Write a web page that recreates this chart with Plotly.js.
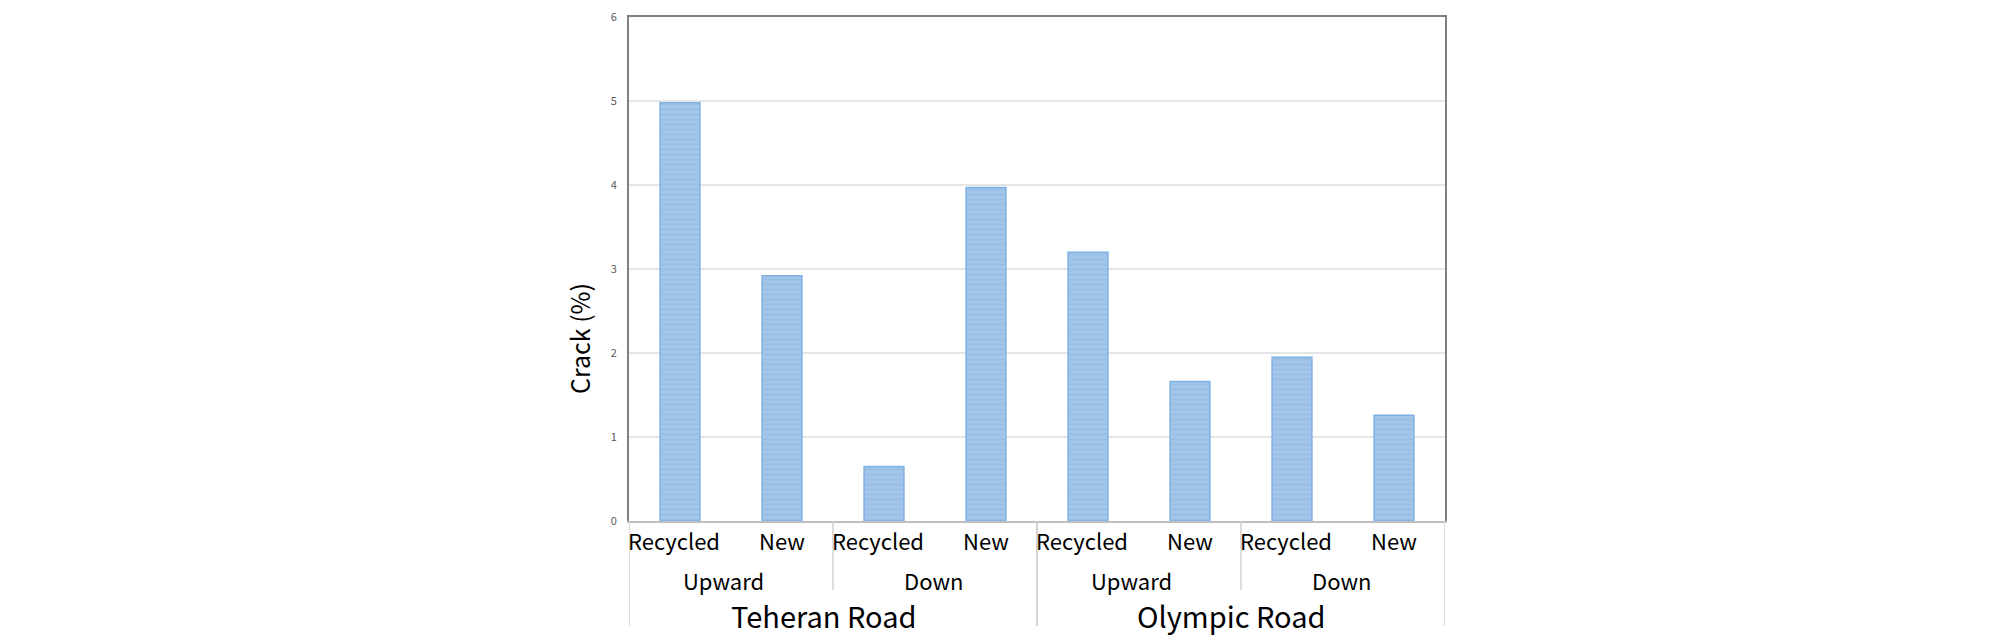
<!DOCTYPE html>
<html>
<head>
<meta charset="utf-8">
<script src="https://cdn.plot.ly/plotly-3.0.1.min.js"></script>
<style>html,body{margin:0;padding:0;background:#fff;}#chart{width:2008px;height:644px;}</style>
</head>
<body>
<div id="chart"></div>
<script>
// Data
const treatment = ["Recycled", "New", "Recycled", "New", "Recycled", "New", "Recycled", "New"];
const direction = ["Upward", "Upward", "Down", "Down", "Upward", "Upward", "Down", "Down"];
const road = ["Teheran Road", "Teheran Road", "Teheran Road", "Teheran Road", "Olympic Road", "Olympic Road", "Olympic Road", "Olympic Road"];
const crack = [4.98, 2.92, 0.65, 3.97, 3.20, 1.66, 1.95, 1.26];
const yTicks = [0, 1, 2, 3, 4, 5, 6];

const FONT = "'Noto Sans CJK KR', 'Noto Sans', sans-serif";
const idx = treatment.map((_, i) => i);

// group helper: returns [{label, start, end}]
function groups(keys) {
  const out = [];
  keys.forEach((k, i) => {
    const last = out[out.length - 1];
    if (last && last.key === k) last.end = i;
    else out.push({ key: k, label: k.split("|").pop(), start: i, end: i });
  });
  return out;
}
const dirGroups = groups(direction.map((d, i) => road[i] + "|" + d));
const roadGroups = groups(road);

// small horizontal nudges mimicking the original's label placement (pixels)
function nudge(label) {
  if (label === "Recycled") return -6;
  if (label === "Upward") return -8;
  if (label === "Down") return -2;
  return 0;
}

const annotations = [];
const shapes = [];
const lineColor = "#d0d0d0";

treatment.forEach((t, i) => {
  annotations.push({ x: i, y: 0, xref: "x", yref: "paper", text: t, showarrow: false,
    yanchor: "middle", yshift: -19, xshift: nudge(t), font: { family: FONT, size: 22, color: "#000" } });
});
dirGroups.forEach(g => {
  annotations.push({ x: (g.start + g.end) / 2, y: 0, xref: "x", yref: "paper", text: g.label, showarrow: false,
    yanchor: "middle", yshift: -59, xshift: nudge(g.label), font: { family: FONT, size: 22, color: "#000" } });
});
roadGroups.forEach(g => {
  annotations.push({ x: (g.start + g.end) / 2, y: 0, xref: "x", yref: "paper", text: g.label, showarrow: false,
    yanchor: "middle", yshift: -94, xshift: -10, font: { family: FONT, size: 29, color: "#000" } });
});
// y title
annotations.push({ x: 0, y: 0.361, xref: "paper", yref: "paper", text: "Crack (%)", showarrow: false,
  textangle: -90, xanchor: "center", yanchor: "middle", xshift: -50, font: { family: FONT, size: 25, color: "#000" } });

// separator lines (pixel lengths converted to paper units: plot height 504)
const ph = 504;
function vline(x, depthPx) {
  shapes.push({ type: "line", xref: "x", yref: "paper", x0: x, x1: x, y0: 0, y1: -depthPx / ph,
    line: { color: lineColor, width: 1.5 }, layer: "above" });
}
roadGroups.forEach(g => { vline(g.start - 0.5, 105); vline(g.end + 0.5, 105); });
dirGroups.forEach((g, k) => {
  if (k > 0 && road[g.start] === road[g.start - 1]) vline(g.start - 0.5, 69);
});

const trace = {
  type: "bar",
  x: idx,
  y: crack,
  width: 0.39,
  marker: {
    color: "#9ec3e8",
    line: { color: "#7eb0e4", width: 1.5 },
    pattern: { shape: "-", fgcolor: "rgba(125,170,220,0.35)", bgcolor: "#a2c5e9", size: 5, solidity: 0.25 }
  },
  hoverinfo: "y"
};

const layout = {
  width: 2008, height: 644,
  margin: { l: 629, r: 563, t: 17, b: 123, pad: 0 },
  paper_bgcolor: "#fff", plot_bgcolor: "#fff",
  showlegend: false,
  xaxis: {
    range: [-0.5, treatment.length - 0.5],
    showticklabels: false, showgrid: false, zeroline: false,
    showline: true, linecolor: "#bfbfbf", linewidth: 1.5,
    mirror: false, fixedrange: true
  },
  xaxis2: {
    overlaying: "x", side: "top", range: [-0.5, treatment.length - 0.5],
    showticklabels: false, showgrid: false, zeroline: false,
    showline: true, linecolor: "#7f7f7f", linewidth: 2
  },
  yaxis: {
    range: [0, 6], tickvals: yTicks, ticktext: yTicks.map(String),
    showgrid: true, gridcolor: "#e6e6e6", gridwidth: 1.5, zeroline: false,
    showline: true, linecolor: "#808080", linewidth: 2,
    ticks: "", ticklabelstandoff: 8,
    tickfont: { family: FONT, size: 11, color: "#595959" }, fixedrange: true
  },
  yaxis2: {
    overlaying: "y", side: "right", range: [0, 6],
    showticklabels: false, showgrid: false, zeroline: false,
    showline: true, linecolor: "#7f7f7f", linewidth: 2
  },
  annotations: annotations,
  shapes: shapes
};

const helper = { type: "scatter", x: [0], y: [0], xaxis: "x2", yaxis: "y2", mode: "markers",
  marker: { opacity: 0 }, hoverinfo: "skip" };

Plotly.newPlot("chart", [trace, helper], layout, { displayModeBar: false, staticPlot: true });
</script>
</body>
</html>
